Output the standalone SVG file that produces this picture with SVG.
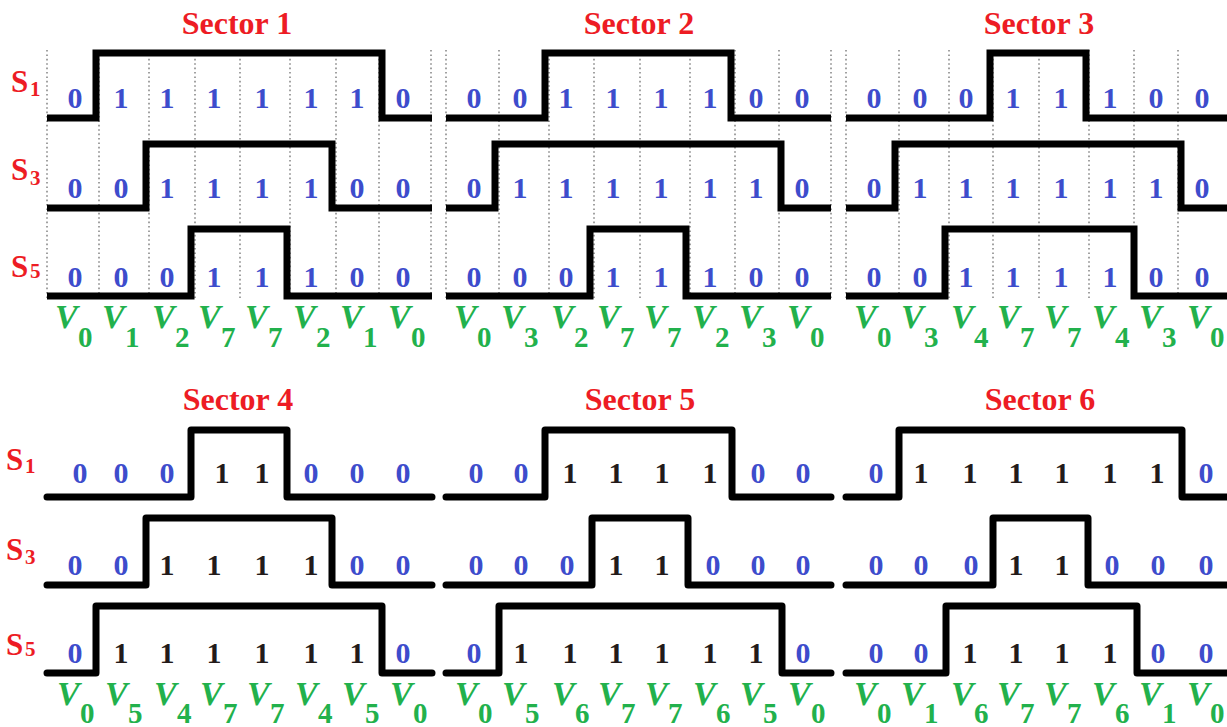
<svg xmlns="http://www.w3.org/2000/svg" width="1227" height="727" viewBox="0 0 1227 727">
<style>
.bg{fill:#ffffff}
.w{fill:none;stroke:#000;stroke-width:7;stroke-linejoin:miter;stroke-linecap:butt}
.wb{fill:none;stroke:#000;stroke-width:7;stroke-linejoin:round;stroke-linecap:round}
.dot{fill:none;stroke:#8a8a8a;stroke-width:1.6;stroke-dasharray:1.6 2.8}
.t{font-family:"Liberation Serif","Times New Roman",serif;font-weight:bold;font-size:32px;fill:#ed1c24;text-anchor:middle}
.s{font-family:"Liberation Serif","Times New Roman",serif;font-weight:bold;font-size:31px;fill:#ed1c24}
.ss{font-size:21px}
.d{font-family:"Liberation Serif","Times New Roman",serif;font-weight:bold;font-size:30px;fill:#3d4ccc;text-anchor:middle}
.k{fill:#231a1a}
.v{font-family:"Liberation Serif","Times New Roman",serif;font-weight:bold;font-size:34px;fill:#22b14c}
.vi{font-style:italic}
.vs{font-size:29px;font-style:normal}
</style>
<rect class="bg" x="0" y="0" width="1227" height="727"/>

<g id="labels-top">
<text class="s"><tspan x="11" y="92">S</tspan><tspan class="ss" x="30" y="96">1</tspan></text>
<text class="s"><tspan x="11" y="180">S</tspan><tspan class="ss" x="30" y="185">3</tspan></text>
<text class="s"><tspan x="11" y="277">S</tspan><tspan class="ss" x="30" y="278">5</tspan></text>
</g>
<g id="labels-bottom">
<text class="s"><tspan x="6" y="470">S</tspan><tspan class="ss" x="25" y="473">1</tspan></text>
<text class="s"><tspan x="6" y="560">S</tspan><tspan class="ss" x="25" y="564">3</tspan></text>
<text class="s"><tspan x="6" y="655">S</tspan><tspan class="ss" x="25" y="656">5</tspan></text>
</g>

<g id="grid-top">
<path class="dot" d="M47,50V298M99,50V298M149,50V298M195,50V298M240,50V298M290,50V298M336,50V298M379,50V298M431,50V298"/>
<path class="dot" d="M446,50V298M499,50V298M549,50V298M594,50V298M640,50V298M690,50V298M735,50V298M779,50V298M831,50V298"/>
<path class="dot" d="M846,50V298M899,50V298M949,50V298M993,50V298M1039,50V298M1089,50V298M1134,50V298M1178,50V298"/>
</g>

<g id="sector1">
<text class="t" x="237" y="34">Sector 1</text>
<path class="w" d="M47,118H96V53H382V118H432"/>
<path class="w" d="M47,208H146V144H332V208H432"/>
<path class="w" d="M47,296H191V229H287V296H432"/>
<text class="d" x="75 121 167 214 262 311 357 403" y="108">01111110</text>
<text class="d" x="75 121 167 214 262 311 357 403" y="198">00111100</text>
<text class="d" x="75 121 167 214 262 311 357 403" y="287">00011100</text>
<text class="v"><tspan class="vi" x="55" y="328">V</tspan><tspan class="vs" x="78" y="347">0</tspan><tspan class="vi" x="102" y="328">V</tspan><tspan class="vs" x="125" y="347">1</tspan><tspan class="vi" x="152" y="328">V</tspan><tspan class="vs" x="175" y="347">2</tspan><tspan class="vi" x="198" y="328">V</tspan><tspan class="vs" x="221" y="347">7</tspan><tspan class="vi" x="245" y="328">V</tspan><tspan class="vs" x="268" y="347">7</tspan><tspan class="vi" x="293" y="328">V</tspan><tspan class="vs" x="316" y="347">2</tspan><tspan class="vi" x="340" y="328">V</tspan><tspan class="vs" x="363" y="347">1</tspan><tspan class="vi" x="388" y="328">V</tspan><tspan class="vs" x="411" y="347">0</tspan></text>
</g>

<g id="sector2">
<text class="t" x="639" y="34">Sector 2</text>
<path class="w" d="M446,118H545V53H731V118H831"/>
<path class="w" d="M446,208H495V144H781V208H831"/>
<path class="w" d="M446,296H590V229H686V296H831"/>
<text class="d" x="474 520 566 613 661 710 756 802" y="108">00111100</text>
<text class="d" x="474 520 566 613 661 710 756 802" y="198">01111110</text>
<text class="d" x="474 520 566 613 661 710 756 802" y="287">00011100</text>
<text class="v"><tspan class="vi" x="454" y="328">V</tspan><tspan class="vs" x="477" y="347">0</tspan><tspan class="vi" x="501" y="328">V</tspan><tspan class="vs" x="524" y="347">3</tspan><tspan class="vi" x="551" y="328">V</tspan><tspan class="vs" x="574" y="347">2</tspan><tspan class="vi" x="597" y="328">V</tspan><tspan class="vs" x="620" y="347">7</tspan><tspan class="vi" x="644" y="328">V</tspan><tspan class="vs" x="667" y="347">7</tspan><tspan class="vi" x="692" y="328">V</tspan><tspan class="vs" x="715" y="347">2</tspan><tspan class="vi" x="739" y="328">V</tspan><tspan class="vs" x="762" y="347">3</tspan><tspan class="vi" x="787" y="328">V</tspan><tspan class="vs" x="810" y="347">0</tspan></text>
</g>

<g id="sector3">
<text class="t" x="1039" y="34">Sector 3</text>
<path class="w" d="M846,118H990V53H1086V118H1231"/>
<path class="w" d="M846,208H895V144H1181V208H1231"/>
<path class="w" d="M846,296H945V229H1134V296H1231"/>
<text class="d" x="874 920 966 1013 1061 1110 1156 1202" y="108">00011100</text>
<text class="d" x="874 920 966 1013 1061 1110 1156 1202" y="198">01111110</text>
<text class="d" x="874 920 966 1013 1061 1110 1156 1202" y="287">00111100</text>
<text class="v"><tspan class="vi" x="854" y="328">V</tspan><tspan class="vs" x="877" y="347">0</tspan><tspan class="vi" x="901" y="328">V</tspan><tspan class="vs" x="924" y="347">3</tspan><tspan class="vi" x="951" y="328">V</tspan><tspan class="vs" x="974" y="347">4</tspan><tspan class="vi" x="997" y="328">V</tspan><tspan class="vs" x="1020" y="347">7</tspan><tspan class="vi" x="1044" y="328">V</tspan><tspan class="vs" x="1067" y="347">7</tspan><tspan class="vi" x="1092" y="328">V</tspan><tspan class="vs" x="1115" y="347">4</tspan><tspan class="vi" x="1139" y="328">V</tspan><tspan class="vs" x="1162" y="347">3</tspan><tspan class="vi" x="1187" y="328">V</tspan><tspan class="vs" x="1210" y="347">0</tspan></text>
</g>

<g id="sector4">
<text class="t" x="238" y="410">Sector 4</text>
<path class="wb" d="M47,497H191V430H287V497H432"/>
<path class="wb" d="M47,585H146V518H332V585H432"/>
<path class="wb" d="M47,673H96V606H382V673H432"/>
<text class="d" y="483"><tspan x="80">0</tspan><tspan x="121">0</tspan><tspan x="167">0</tspan><tspan x="222" class="k">1</tspan><tspan x="262" class="k">1</tspan><tspan x="311">0</tspan><tspan x="357">0</tspan><tspan x="403">0</tspan></text>
<text class="d" y="575"><tspan x="75">0</tspan><tspan x="121">0</tspan><tspan x="167" class="k">1</tspan><tspan x="214" class="k">1</tspan><tspan x="262" class="k">1</tspan><tspan x="311" class="k">1</tspan><tspan x="357">0</tspan><tspan x="403">0</tspan></text>
<text class="d" y="663"><tspan x="75">0</tspan><tspan x="121" class="k">1</tspan><tspan x="167" class="k">1</tspan><tspan x="214" class="k">1</tspan><tspan x="262" class="k">1</tspan><tspan x="311" class="k">1</tspan><tspan x="357" class="k">1</tspan><tspan x="403">0</tspan></text>
<text class="v"><tspan class="vi" x="57" y="705">V</tspan><tspan class="vs" x="80" y="723">0</tspan><tspan class="vi" x="105" y="705">V</tspan><tspan class="vs" x="128" y="723">5</tspan><tspan class="vi" x="154" y="705">V</tspan><tspan class="vs" x="177" y="723">4</tspan><tspan class="vi" x="200" y="705">V</tspan><tspan class="vs" x="223" y="723">7</tspan><tspan class="vi" x="247" y="705">V</tspan><tspan class="vs" x="270" y="723">7</tspan><tspan class="vi" x="295" y="705">V</tspan><tspan class="vs" x="318" y="723">4</tspan><tspan class="vi" x="342" y="705">V</tspan><tspan class="vs" x="365" y="723">5</tspan><tspan class="vi" x="390" y="705">V</tspan><tspan class="vs" x="413" y="723">0</tspan></text>
</g>

<g id="sector5">
<text class="t" x="640" y="410">Sector 5</text>
<path class="wb" d="M446,497H545V430H732V497H831"/>
<path class="wb" d="M446,585H592V518H688V585H831"/>
<path class="wb" d="M446,673H499V606H782V673H831"/>
<text class="d" y="483"><tspan x="476">0</tspan><tspan x="521">0</tspan><tspan x="570" class="k">1</tspan><tspan x="616" class="k">1</tspan><tspan x="662" class="k">1</tspan><tspan x="710" class="k">1</tspan><tspan x="758">0</tspan><tspan x="803">0</tspan></text>
<text class="d" y="575"><tspan x="476">0</tspan><tspan x="521">0</tspan><tspan x="567">0</tspan><tspan x="616" class="k">1</tspan><tspan x="662" class="k">1</tspan><tspan x="713">0</tspan><tspan x="758">0</tspan><tspan x="803">0</tspan></text>
<text class="d" y="663"><tspan x="474">0</tspan><tspan x="521" class="k">1</tspan><tspan x="570" class="k">1</tspan><tspan x="616" class="k">1</tspan><tspan x="662" class="k">1</tspan><tspan x="710" class="k">1</tspan><tspan x="756" class="k">1</tspan><tspan x="803">0</tspan></text>
<text class="v"><tspan class="vi" x="455" y="705">V</tspan><tspan class="vs" x="478" y="723">0</tspan><tspan class="vi" x="502" y="705">V</tspan><tspan class="vs" x="525" y="723">5</tspan><tspan class="vi" x="552" y="705">V</tspan><tspan class="vs" x="575" y="723">6</tspan><tspan class="vi" x="598" y="705">V</tspan><tspan class="vs" x="621" y="723">7</tspan><tspan class="vi" x="645" y="705">V</tspan><tspan class="vs" x="668" y="723">7</tspan><tspan class="vi" x="693" y="705">V</tspan><tspan class="vs" x="716" y="723">6</tspan><tspan class="vi" x="740" y="705">V</tspan><tspan class="vs" x="763" y="723">5</tspan><tspan class="vi" x="788" y="705">V</tspan><tspan class="vs" x="811" y="723">0</tspan></text>
</g>

<g id="sector6">
<text class="t" x="1040" y="410">Sector 6</text>
<path class="wb" d="M846,497H899V430H1182V497H1231"/>
<path class="wb" d="M846,585H993V518H1088V585H1231"/>
<path class="wb" d="M846,673H946V606H1137V673H1231"/>
<text class="d" y="483"><tspan x="876">0</tspan><tspan x="921" class="k">1</tspan><tspan x="970" class="k">1</tspan><tspan x="1016" class="k">1</tspan><tspan x="1062" class="k">1</tspan><tspan x="1110" class="k">1</tspan><tspan x="1157" class="k">1</tspan><tspan x="1206">0</tspan></text>
<text class="d" y="575"><tspan x="876">0</tspan><tspan x="921">0</tspan><tspan x="971">0</tspan><tspan x="1016" class="k">1</tspan><tspan x="1062" class="k">1</tspan><tspan x="1112">0</tspan><tspan x="1158">0</tspan><tspan x="1206">0</tspan></text>
<text class="d" y="663"><tspan x="876">0</tspan><tspan x="921">0</tspan><tspan x="970" class="k">1</tspan><tspan x="1016" class="k">1</tspan><tspan x="1062" class="k">1</tspan><tspan x="1110" class="k">1</tspan><tspan x="1158">0</tspan><tspan x="1206">0</tspan></text>
<text class="v"><tspan class="vi" x="854" y="705">V</tspan><tspan class="vs" x="877" y="723">0</tspan><tspan class="vi" x="901" y="705">V</tspan><tspan class="vs" x="924" y="723">1</tspan><tspan class="vi" x="951" y="705">V</tspan><tspan class="vs" x="974" y="723">6</tspan><tspan class="vi" x="997" y="705">V</tspan><tspan class="vs" x="1020" y="723">7</tspan><tspan class="vi" x="1044" y="705">V</tspan><tspan class="vs" x="1067" y="723">7</tspan><tspan class="vi" x="1092" y="705">V</tspan><tspan class="vs" x="1115" y="723">6</tspan><tspan class="vi" x="1139" y="705">V</tspan><tspan class="vs" x="1162" y="723">1</tspan><tspan class="vi" x="1187" y="705">V</tspan><tspan class="vs" x="1210" y="723">0</tspan></text>
</g>
</svg>
